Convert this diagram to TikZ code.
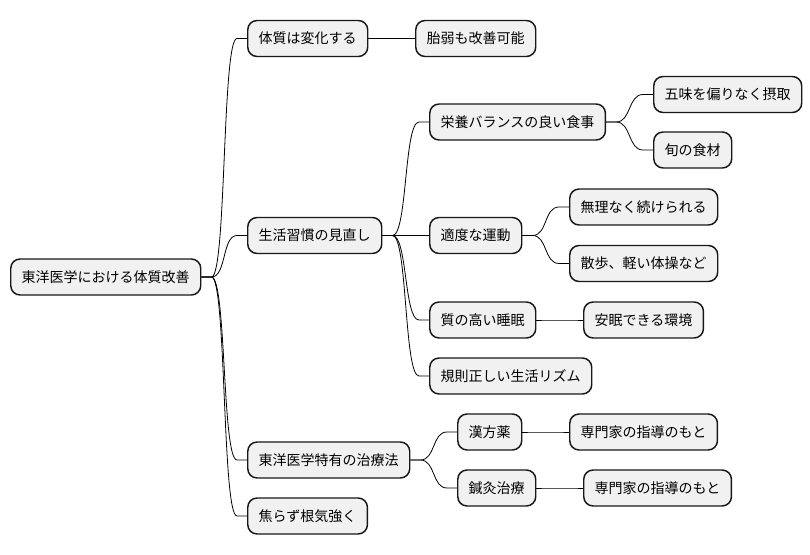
\documentclass[tikz,border=0pt]{standalone}
\usepackage{fontspec}
\newfontfamily\jpfont{Noto Sans CJK JP}
\usetikzlibrary{calc}

\definecolor{boxgray}{HTML}{F1F1F1}
\definecolor{rimgray}{HTML}{181818}

\begin{document}
\begin{tikzpicture}[
    x=0.75pt, y=-0.75pt,
    topic/.style={draw=rimgray, fill=boxgray, line width=1.1pt, rounded corners=7pt,
        anchor=west, minimum height=27pt, inner xsep=8.25pt, inner ysep=0pt,
        font=\jpfont\fontsize{10.5}{12}\selectfont},
    branch/.style={black, line width=0.6pt,
        to path={-- ++(10,0) .. controls +(15,0) and +(-15,0) .. ($(\tikztotarget)+(-10,0)$) -- (\tikztotarget)}}
]

% Canvas
\useasboundingbox (0,0) rectangle (810,555);

% Columns (left edges)
\def\cA{10}
\def\cB{247}
\def\cC{429}

% ============================================================
% Root
% ============================================================
\node[topic] (root) at (\cA,277) {東洋医学における体質改善};

% ============================================================
% First level
% ============================================================
\node[topic] (change) at (\cB,38.5) {体質は変化する};
\node[topic] (habit)  at (\cB,235.5) {生活習慣の見直し};
\node[topic] (cure)   at (\cB,460) {東洋医学特有の治療法};
\node[topic] (patient) at (\cB,516) {焦らず根気強く};

% ============================================================
% Second and third level
% ============================================================
\node[topic] (taijaku) at (415,38.5) {胎弱も改善可能};

\node[topic] (diet)     at (\cC,122) {栄養バランスの良い食事};
\node[topic] (gomi)     at (653,94.5) {五味を偏りなく摂取};
\node[topic] (shun)     at (653,150) {旬の食材};

\node[topic] (exercise) at (\cC,235.5) {適度な運動};
\node[topic] (muri)     at (569,207) {無理なく続けられる};
\node[topic] (walk)     at (569,263.5) {散歩、軽い体操など};

\node[topic] (sleep)    at (\cC,320) {質の高い睡眠};
\node[topic] (anmin)    at (583,320) {安眠できる環境};

\node[topic] (rhythm)   at (\cC,376) {規則正しい生活リズム};

\node[topic] (kampo)    at (457,432) {漢方薬};
\node[topic] (kampoPro) at (569,432) {専門家の指導のもと};
\node[topic] (shinkyu)  at (457,488) {鍼灸治療};
\node[topic] (shinPro)  at (583,488) {専門家の指導のもと};

% ============================================================
% Branches
% ============================================================
\foreach \kid in {change,habit,cure,patient} {
    \draw[branch] (root.east) to (\kid.west);
}
\draw[branch] (change.east) to (taijaku.west);

\foreach \kid in {diet,exercise,sleep,rhythm} {
    \draw[branch] (habit.east) to (\kid.west);
}
\draw[branch] (diet.east) to (gomi.west);
\draw[branch] (diet.east) to (shun.west);
\draw[branch] (exercise.east) to (muri.west);
\draw[branch] (exercise.east) to (walk.west);
\draw[branch] (sleep.east) to (anmin.west);

\draw[branch] (cure.east) to (kampo.west);
\draw[branch] (cure.east) to (shinkyu.west);
\draw[branch] (kampo.east) to (kampoPro.west);
\draw[branch] (shinkyu.east) to (shinPro.west);
\end{tikzpicture}
\end{document}
